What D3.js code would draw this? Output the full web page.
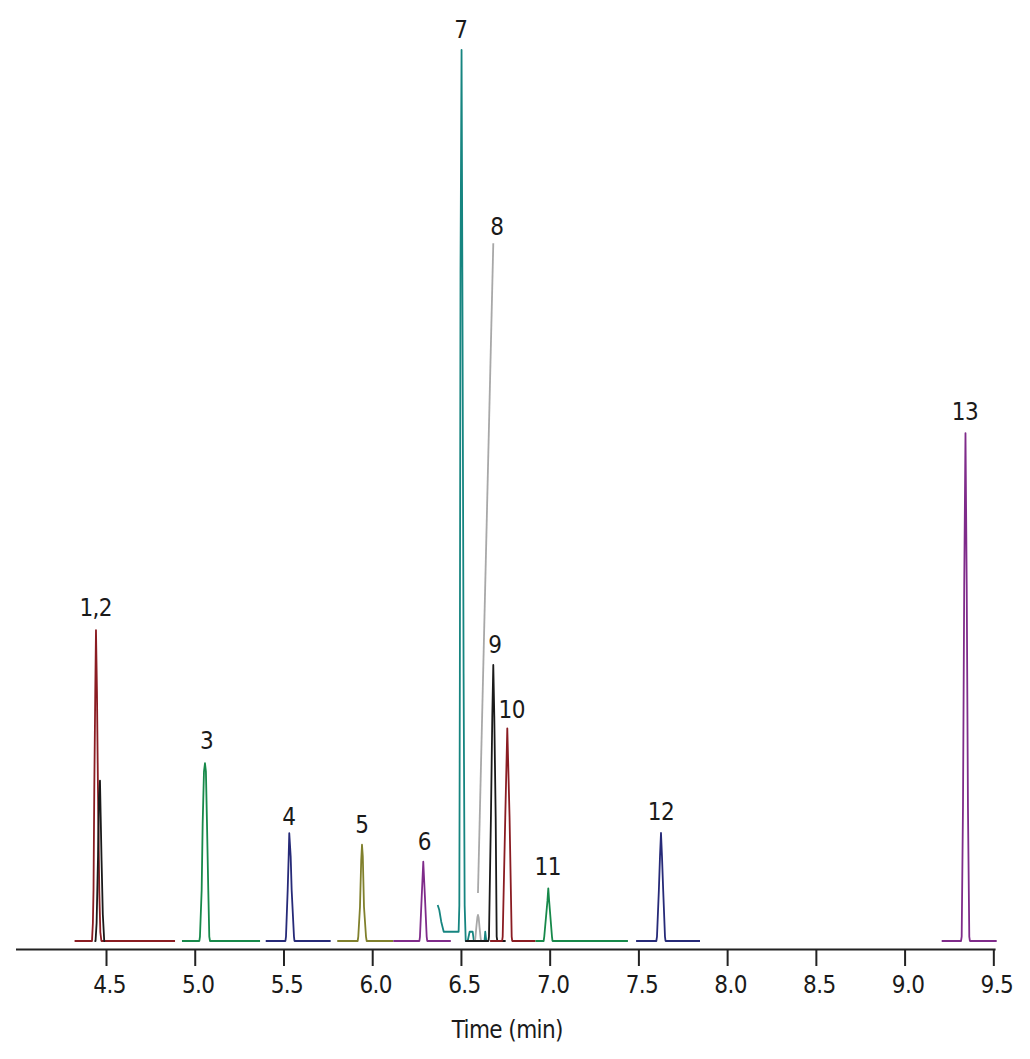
<!DOCTYPE html>
<html>
<head>
<meta charset="utf-8">
<script src="https://cdn.jsdelivr.net/npm/d3@7"></script>
<style>
  body { margin: 0; background: #fff; }
  text { font-family: "Liberation Sans Narrow", "DejaVu Sans Condensed", sans-serif; fill: #1a1a1a; letter-spacing: -0.6px; }
</style>
</head>
<body>
<div id="chart"></div>
<script>
// chromatogram traces, [time (min), relative response]
const trace1 = [[4.323,0],[4.421,0],[4.426,2],[4.4296,5.7],[4.4339,17],[4.4395,28],[4.4435,34.9],[4.449,28],[4.4547,17],[4.462,5.7],[4.468,1],[4.474,0],[4.889,0]];
const trace2 = [[4.435,0],[4.441,0],[4.447,2],[4.455,9.5],[4.460,16],[4.466,18.0],[4.470,14],[4.475,9],[4.482,3],[4.490,0],[4.495,0]];
const trace3 = [[4.928,0],[5.026,0],[5.0294,0.5],[5.039,5.7],[5.0447,13.2],[5.052,19],[5.0577,19.95],[5.063,19],[5.069,13.2],[5.0763,5.7],[5.082,0.5],[5.086,0],[5.368,0]];
const trace4 = [[5.400,0],[5.511,0],[5.5142,0.5],[5.5237,5.7],[5.5293,9.5],[5.5327,12.1],[5.5406,9.5],[5.5462,5.7],[5.5592,0.5],[5.562,0],[5.766,0]];
const trace5 = [[5.803,0],[5.918,0],[5.9216,0.5],[5.9312,3.85],[5.938,9],[5.9425,10.8],[5.947,9.5],[5.9537,3.85],[5.965,0.5],[5.969,0],[6.119,0]];
const trace6 = [[6.119,0],[6.266,0],[6.2692,0.5],[6.279,5],[6.2878,8.9],[6.297,5],[6.307,0.5],[6.310,0],[6.443,0]];
const trace7 = [[6.369,4.04],[6.378,3.48],[6.389,2.17],[6.403,1.04],[6.487,1.04],[6.491,4],[6.494,30],[6.4975,75],[6.5035,100],[6.508,75],[6.515,30],[6.521,4],[6.527,0],[6.538,0],[6.549,1.04],[6.566,1.04],[6.573,0],[6.633,0],[6.637,1.04],[6.643,0],[6.647,0]];
const trace8 = [[6.549,0],[6.578,0],[6.581,0.3],[6.588,1.8],[6.593,2.7],[6.596,2.92],[6.600,2.6],[6.605,1.5],[6.611,0.3],[6.614,0],[6.623,0]];
const trace9 = [[6.5245,0],[6.655,0],[6.658,0.5],[6.669,13.9],[6.6767,25.2],[6.6823,30.98],[6.688,25.2],[6.6958,13.9],[6.7014,0.5],[6.705,0],[6.752,0]];
const trace10 = [[6.6643,0],[6.732,0],[6.7353,0.5],[6.7498,13.9],[6.7612,23.87],[6.774,13.9],[6.786,0.5],[6.789,0],[6.920,0]];
const trace11 = [[6.920,0],[6.966,0],[6.9696,0.5],[6.9875,4.5],[6.9922,5.91],[6.997,4.5],[7.013,0.5],[7.016,0],[7.441,0]];
const trace12 = [[7.487,0],[7.601,0],[7.6048,0.5],[7.6153,5.7],[7.6217,9.5],[7.6273,12.12],[7.6329,9.5],[7.6397,5.7],[7.6498,0.5],[7.653,0],[7.847,0]];
const trace13 = [[9.209,0],[9.318,0],[9.3217,0.5],[9.329,15],[9.336,40],[9.3431,57.0],[9.350,40],[9.357,15],[9.3645,0.5],[9.368,0],[9.519,0]];

// leader line from peak 8 up to its label
const leader8 = [[6.596,5.39],[6.6823,78.3]];

// peak labels: text, anchor time, anchor response (bottom of the label)
const labelText = ['1,2','3','4','5','6','7','8','9','10','11','12','13'];
const labelTime = [4.442,5.067,5.530,5.942,6.293,6.500,6.702,6.691,6.786,6.989,7.627,9.340];
const labelValue = [36.5,21.5,13.0,12.1,10.2,101.3,79.2,32.3,25.0,7.4,13.6,58.5];

const tickValues = [4.5,5.0,5.5,6.0,6.5,7.0,7.5,8.0,8.5,9.0,9.5];

const traces = [
  { pts: trace7,  color: '#168580' },
  { pts: trace1,  color: '#8a1c22' },
  { pts: trace2,  color: '#1a1a1a' },
  { pts: trace3,  color: '#17894a' },
  { pts: trace4,  color: '#262a78' },
  { pts: trace5,  color: '#80802c' },
  { pts: trace6,  color: '#7f2b8a' },
  { pts: trace8,  color: '#a8a8a8' },
  { pts: trace9,  color: '#1a1a1a' },
  { pts: trace10, color: '#8a1c22' },
  { pts: trace11, color: '#17894a' },
  { pts: trace12, color: '#262a78' },
  { pts: trace13, color: '#7f2b8a' }
];

const width = 1030, height = 1059;

const svg = d3.select('#chart')
  .append('svg')
  .attr('width', width)
  .attr('height', height);

const x = d3.scaleLinear()
  .domain([3.99, 9.51])
  .range([15.5, 995.1]);

const y = d3.scaleLinear()
  .domain([0, 100])
  .range([941, 50]);

const line = d3.line()
  .x(d => x(d[0]))
  .y(d => y(d[1]));

svg.append('path')
  .datum(leader8)
  .attr('fill', 'none')
  .attr('stroke', '#a8a8a8')
  .attr('stroke-width', 1.8)
  .attr('d', line);

svg.selectAll('.trace')
  .data(traces)
  .join('path')
  .attr('class', 'trace')
  .attr('fill', 'none')
  .attr('stroke', d => d.color)
  .attr('stroke-width', 1.8)
  .attr('stroke-linejoin', 'round')
  .attr('d', d => line(d.pts));

svg.selectAll('.peak-label')
  .data(labelText)
  .join('text')
  .attr('class', 'peak-label')
  .attr('x', (d, i) => x(labelTime[i]))
  .attr('y', (d, i) => y(labelValue[i]))
  .attr('text-anchor', 'middle')
  .attr('font-size', 24)
  .text(d => d);

const xAxis = svg.append('g')
  .attr('transform', 'translate(0,949)')
  .call(d3.axisBottom(x)
    .tickValues(tickValues)
    .tickFormat(d3.format('.1f'))
    .tickSize(17)
    .tickSizeOuter(0)
    .tickPadding(10));

xAxis.select('.domain').attr('stroke', '#222').attr('stroke-width', 2);
xAxis.selectAll('.tick line').attr('stroke', '#222').attr('stroke-width', 2);
xAxis.selectAll('.tick text')
  .attr('font-size', 24)
  .attr('font-family', '"Liberation Sans Narrow", "DejaVu Sans Condensed", sans-serif')
  .attr('fill', '#1a1a1a')
  .attr('dx', 3);

svg.append('text')
  .attr('x', (x.range()[0] + x.range()[1]) / 2 + 2)
  .attr('y', 1038)
  .attr('text-anchor', 'middle')
  .attr('font-size', 24)
  .text('Time (min)');
</script>
</body>
</html>
